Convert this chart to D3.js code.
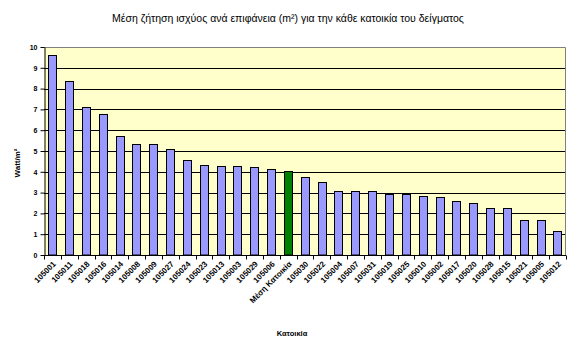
<!DOCTYPE html>
<html><head><meta charset="utf-8">
<script src="https://cdn.jsdelivr.net/npm/d3@7"></script>
<style>body{margin:0;background:#fff;} svg{display:block;font-family:"Liberation Sans",Arial,sans-serif;}</style>
</head><body>
<svg id="c" width="576" height="354"></svg>
<script>
const categories = ["105001","105011","105018","105016","105014","105008","105009","105027","105024","105023","105013","105003","105029","105006","Μέση Κατοικία","105030","105022","105004","105007","105031","105019","105025","105010","105002","105017","105020","105028","105015","105021","105005","105012"];
const values = [9.6,8.35,7.1,6.8,5.7,5.35,5.35,5.1,4.55,4.35,4.3,4.28,4.22,4.15,4.05,3.75,3.5,3.1,3.1,3.1,2.95,2.95,2.85,2.8,2.6,2.5,2.25,2.25,1.7,1.7,1.15];
const yTicks = [0,1,2,3,4,5,6,7,8,9,10];
const highlight = "Μέση Κατοικία";

const svg = d3.select("#c");
const m = {l:44, r:566, t:47, b:255};
const x = d3.scaleBand().domain(categories).range([m.l, m.r]).paddingInner(0.5).paddingOuter(0.25);
const y = d3.scaleLinear().domain([0,10]).range([m.b, m.t]);

svg.append("rect").attr("x",m.l).attr("y",m.t).attr("width",m.r-m.l).attr("height",m.b-m.t).attr("fill","#FFFFCC");
svg.append("g").selectAll("line").data(yTicks.filter(d=>d>0&&d<10)).join("line")
  .attr("x1",m.l).attr("x2",m.r).attr("y1",d=>Math.round(y(d))+0.5).attr("y2",d=>Math.round(y(d))+0.5)
  .attr("stroke","#000").attr("stroke-width",1);
svg.append("path").attr("d",`M${m.l},${m.t+0.5}H${m.r-0.5}V${m.b}`).attr("fill","none").attr("stroke","#808080");

svg.append("g").selectAll("rect").data(categories).join("rect")
  .attr("x",d=>Math.round(x(d))+0.5).attr("width",Math.round(x.bandwidth()))
  .attr("y",(d,i)=>Math.round(y(values[i]))+0.5).attr("height",(d,i)=>m.b-Math.round(y(values[i]))-0.5)
  .attr("fill",d=>d===highlight?"#008000":"#9999FF").attr("stroke","#000").attr("stroke-width",1);

const ya = svg.append("g").attr("transform",`translate(${m.l+0.5},0)`)
  .call(d3.axisLeft(y).tickValues(yTicks).tickSize(4).tickSizeOuter(0).tickFormat(d3.format("d")));
ya.select(".domain").attr("stroke","#000");
ya.selectAll(".tick line").attr("stroke","#000");
ya.selectAll("text").attr("font-size","7px").attr("font-weight","bold").attr("fill","#000").attr("font-family","Liberation Sans, Arial");

const xa = svg.append("g").attr("transform",`translate(0,${m.b+0.5})`);
xa.append("line").attr("x1",m.l).attr("x2",m.r).attr("stroke","#000");
const bounds = d3.range(categories.length+1).map(i=>m.l + i*(m.r-m.l)/categories.length);
xa.selectAll("line.t").data(bounds).join("line").attr("class","t")
  .attr("x1",d=>Math.round(d)+0.5).attr("x2",d=>Math.round(d)+0.5).attr("y1",0).attr("y2",4).attr("stroke","#000");
xa.selectAll("text").data(categories).join("text")
  .attr("transform",d=>`translate(${x(d)+x.bandwidth()/2+4},9) rotate(-45)`)
  .attr("text-anchor","end").attr("font-size","8px").attr("font-weight","bold")
  .text(d=>d);

svg.append("text").attr("x",288).attr("y",22).attr("text-anchor","middle").attr("font-size","10.5px")
  .text("Μέση ζήτηση ισχύος ανά επιφάνεια (m²) για την κάθε κατοικία του δείγματος");
svg.append("text").attr("transform","translate(20,163) rotate(-90)").attr("text-anchor","middle")
  .attr("font-size","8px").attr("font-weight","bold").text("Watt/m²");
svg.append("text").attr("x",292).attr("y",336).attr("text-anchor","middle").attr("font-size","7.5px").attr("font-weight","bold").text("Κατοικία");
</script>
</body></html>
